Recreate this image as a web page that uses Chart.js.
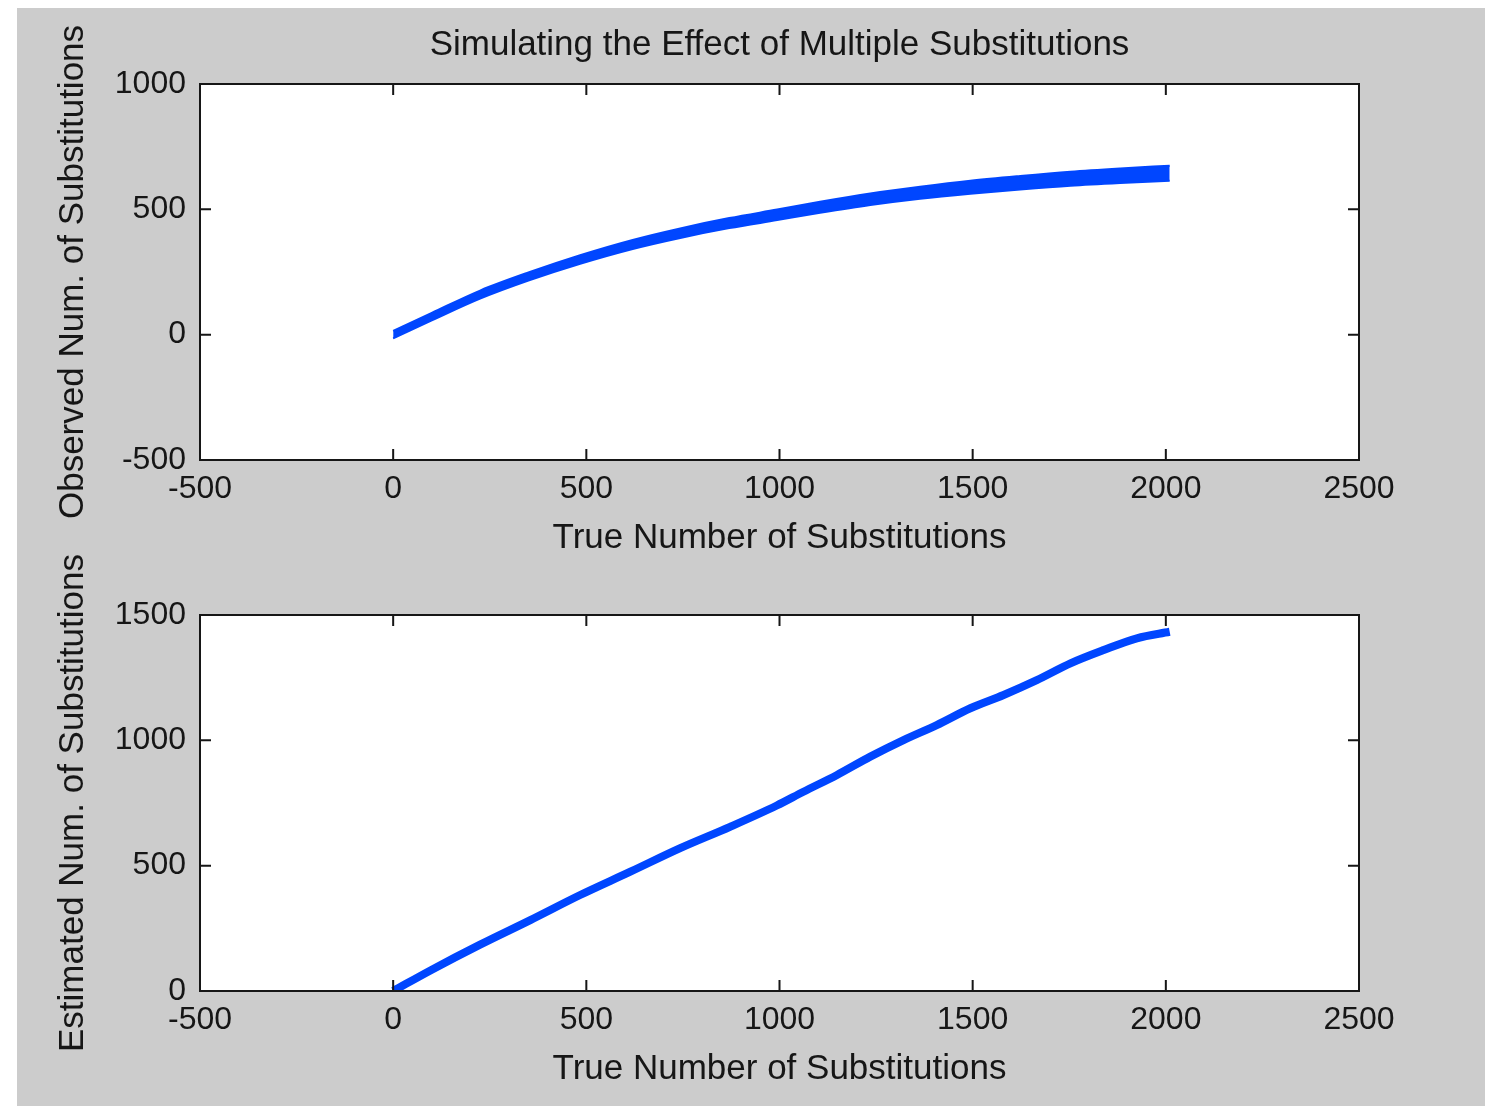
<!DOCTYPE html>
<html>
<head>
<meta charset="utf-8">
<script src="https://cdn.jsdelivr.net/npm/chart.js@4.4.1/dist/chart.umd.min.js"></script>
<style>
    html, body { margin: 0; padding: 0; background: #ffffff; }
    #fig { position: absolute; left: 17px; top: 8px; width: 1468px; height: 1098px; background: #cccccc; }
    canvas { position: absolute; left: 0; }
    #top-chart { top: 0; }
    #bottom-chart { top: 520px; }
</style>
</head>
<body>
<div id="fig">
    <canvas id="top-chart" width="1468" height="560"></canvas>
    <canvas id="bottom-chart" width="1468" height="578"></canvas>
</div>
<script>
const TITLE = 'Simulating the Effect of Multiple Substitutions';
const X_LABEL = 'True Number of Substitutions';
const TOP_Y_LABEL = 'Observed Num. of Substitutions';
const BOTTOM_Y_LABEL = 'Estimated Num. of Substitutions';

// observed substitutions: lower and upper edge of the bundle of runs
const obsX = [0, 100, 225, 350, 484, 620, 743, 870, 994, 1105, 1235, 1364, 1494, 1623, 1753, 1882, 2010];
const obsLow = [-15, 57, 144, 216, 283, 342, 386, 425, 457, 486, 517, 542, 562, 579, 594, 605, 614];
const obsHigh = [15, 87, 176, 248, 317, 378, 424, 465, 499, 530, 563, 590, 614, 633, 650, 663, 674];

// estimated (corrected) substitutions
const estX = [0, 100, 225, 355, 484, 614, 743, 872, 993, 1062, 1149, 1235, 1321, 1407, 1494, 1580, 1666, 1753, 1839, 1925, 2010];
const estY = [0, 85, 185, 283, 383, 476, 570, 655, 740, 795, 862, 935, 1001, 1061, 1128, 1181, 1240, 1307, 1360, 1407, 1433];

const X_RANGE = [-500, 2500];
const TOP_Y_RANGE = [-500, 1000];
const BOTTOM_Y_RANGE = [0, 1500];
const STEP = 500;

const BLUE = '#0046ff';
const INK = '#161616';
const FONT = "'Liberation Sans', Arial, sans-serif";

function toPoints(xs, ys) {
    return xs.map((x, i) => ({x: x, y: ys[i]}));
}

const matlabBox = {
    id: 'matlabBox',
    beforeDraw(chart) {
        const a = chart.chartArea;
        const ctx = chart.ctx;
        ctx.save();
        ctx.fillStyle = '#ffffff';
        ctx.fillRect(a.left, a.top, a.right - a.left, a.bottom - a.top);
        ctx.restore();
    },
    afterDraw(chart) {
        const a = chart.chartArea;
        const ctx = chart.ctx;
        const xs = chart.scales.x;
        const ys = chart.scales.y;
        const len = 11;
        ctx.save();
        ctx.strokeStyle = INK;
        ctx.lineWidth = 2;
        ctx.beginPath();
        xs.ticks.forEach(t => {
            const px = xs.getPixelForValue(t.value);
            ctx.moveTo(px, a.bottom);
            ctx.lineTo(px, a.bottom - len);
            ctx.moveTo(px, a.top);
            ctx.lineTo(px, a.top + len);
        });
        ys.ticks.forEach(t => {
            const py = ys.getPixelForValue(t.value);
            ctx.moveTo(a.left, py);
            ctx.lineTo(a.left + len, py);
            ctx.moveTo(a.right, py);
            ctx.lineTo(a.right - len, py);
        });
        ctx.stroke();
        ctx.strokeRect(a.left, a.top, a.right - a.left, a.bottom - a.top);
        ctx.restore();
    }
};

function plainNumber(value) {
    return String(value);
}

function initScales(yRange, yLabel) {
    return {
        x: {
            type: 'linear',
            min: X_RANGE[0],
            max: X_RANGE[1],
            grid: {display: false, drawTicks: false},
            border: {display: false},
            ticks: {
                stepSize: STEP,
                autoSkip: false,
                maxRotation: 0,
                padding: 10,
                color: INK,
                font: {family: FONT, size: 32},
                callback: plainNumber
            },
            title: {
                display: true,
                text: X_LABEL,
                color: INK,
                font: {family: FONT, size: 35},
                padding: {top: 0, bottom: 9}
            },
            afterFit: s => { s.height = 108; }
        },
        y: {
            type: 'linear',
            min: yRange[0],
            max: yRange[1],
            grid: {display: false, drawTicks: false},
            border: {display: false},
            ticks: {
                stepSize: STEP,
                autoSkip: false,
                padding: 14,
                color: INK,
                font: {family: FONT, size: 32},
                callback: plainNumber
            },
            title: {
                display: true,
                text: yLabel,
                color: INK,
                font: {family: FONT, size: 35},
                padding: {top: 35, bottom: 0}
            },
            afterFit: s => { s.width = 183; }
        }
    };
}

function initConfig(datasets, yRange, yLabel, showTitle, padding) {
    return {
        type: 'line',
        data: {datasets: datasets},
        options: {
            responsive: false,
            animation: false,
            layout: {padding: padding},
            scales: initScales(yRange, yLabel),
            plugins: {
                legend: {display: false},
                tooltip: {enabled: false},
                title: {
                    display: showTitle,
                    text: TITLE,
                    fullSize: false,
                    color: INK,
                    font: {family: FONT, size: 35, weight: 'normal'},
                    padding: {top: 16, bottom: 18}
                }
            }
        },
        plugins: [matlabBox]
    };
}

const topChart = new Chart(
    document.getElementById('top-chart'),
    initConfig([
        {
            data: toPoints(obsX, obsLow),
            borderColor: BLUE,
            borderWidth: 2,
            pointRadius: 0,
            cubicInterpolationMode: 'monotone'
        },
        {
            data: toPoints(obsX, obsHigh),
            borderColor: BLUE,
            backgroundColor: BLUE,
            borderWidth: 2,
            pointRadius: 0,
            cubicInterpolationMode: 'monotone',
            fill: '-1'
        }
    ], TOP_Y_RANGE, TOP_Y_LABEL, true, {left: 0, right: 126, top: 0, bottom: 0})
);

const bottomChart = new Chart(
    document.getElementById('bottom-chart'),
    initConfig([
        {
            data: toPoints(estX, estY),
            borderColor: BLUE,
            borderWidth: 8,
            borderCapStyle: 'butt',
            pointRadius: 0,
            cubicInterpolationMode: 'monotone'
        }
    ], BOTTOM_Y_RANGE, BOTTOM_Y_LABEL, false, {left: 0, right: 126, top: 87, bottom: 7})
);
</script>
</body>
</html>
